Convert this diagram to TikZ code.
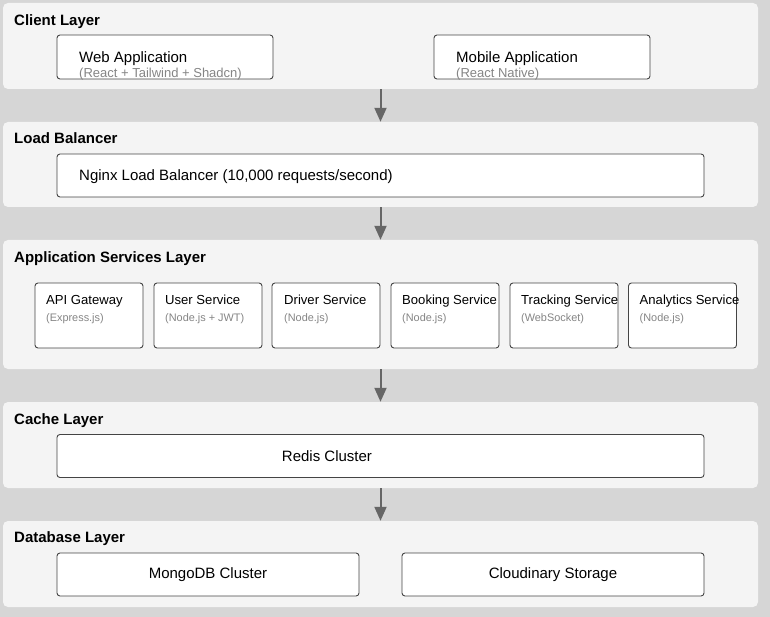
\documentclass[tikz,border=0pt]{standalone}
\usepackage{fontspec}
\setmainfont{Liberation Sans}
\usetikzlibrary{arrows.meta}
\definecolor{bgcol}{HTML}{D6D6D6}
\definecolor{panelcol}{HTML}{F4F4F4}
\definecolor{boxline}{HTML}{444444}
\definecolor{subcol}{HTML}{858585}
\definecolor{arrcol}{HTML}{666666}
\tikzset{
  panel/.style={rectangle, rounded corners=5pt, fill=panelcol, inner sep=0pt, minimum width=755pt},
  layertitle/.style={anchor=base west, inner sep=0pt, font=\fontsize{15}{17}\selectfont\bfseries},
  box/.style={rectangle, rounded corners=3pt, draw=boxline, line width=0.9pt, fill=white, inner sep=0pt},
  maintext/.style={anchor=base west, inner sep=0pt, font=\fontsize{15}{17}\selectfont},
  clsub/.style={anchor=base west, inner sep=0pt, text=subcol, font=\fontsize{13}{15}\selectfont},
  svctext/.style={anchor=base west, inner sep=0pt, font=\fontsize{13.1}{15}\selectfont},
  subtext/.style={anchor=base west, inner sep=0pt, text=subcol, font=\fontsize{10.9}{13}\selectfont},
  ctext/.style={inner sep=0pt, font=\fontsize{15}{17}\selectfont},
  flow/.style={draw=arrcol, line width=2pt, -{Triangle[length=14pt,width=12pt]}, fill=arrcol},
}
\begin{document}
\begin{tikzpicture}[x=1pt,y=-1pt]
\fill[bgcol] (0,0) rectangle (770,617);
\useasboundingbox (0,0) rectangle (770,617);
% panels
\node[panel, minimum height=86pt] (client) at (380.5,46) {};
\node[panel, minimum height=85pt] (lbl) at (380.5,164.5) {};
\node[panel, minimum height=129pt] (app) at (380.5,304.5) {};
\node[panel, minimum height=86pt] (cache) at (380.5,445) {};
\node[panel, minimum height=86pt] (db) at (380.5,564) {};
% titles
\node[layertitle] (tclient) at (14,25.5) {Client Layer};
\node[layertitle] (tlb) at (14,143.5) {Load Balancer};
\node[layertitle] (tapp) at (14,262.5) {Application Services Layer};
\node[layertitle] (tcache) at (14,424.5) {Cache Layer};
\node[layertitle] (tdb) at (14,542.5) {Database Layer};
% client boxes
\node[box, minimum width=216pt, minimum height=44pt] (web) at (165,57) {};
\node[maintext] (webt) at (79,62.5) {Web Application};
\node[clsub] (webs) at (79,77.5) {(React + Tailwind + Shadcn)};
\node[box, minimum width=216pt, minimum height=44pt] (mob) at (542,57) {};
\node[maintext] (mobt) at (456,62.5) {Mobile Application};
\node[clsub] (mobs) at (456,77.5) {(React Native)};
% load balancer
\node[box, minimum width=647pt, minimum height=43pt] (nginx) at (380.5,175.5) {};
\node[maintext] (nginxt) at (79,181) {Nginx Load Balancer (10,000 requests/second)};
% services
\node[box, minimum width=108pt, minimum height=65pt] (s1) at (89,315.5) {};
\node[svctext] (s1t) at (46,305) {API Gateway};
\node[subtext] (s1s) at (46,321.5) {(Express.js)};
\node[box, minimum width=108pt, minimum height=65pt] (s2) at (208,315.5) {};
\node[svctext] (s2t) at (165,305) {User Service};
\node[subtext] (s2s) at (165,321.5) {(Node.js + JWT)};
\node[box, minimum width=108pt, minimum height=65pt] (s3) at (326,315.5) {};
\node[svctext] (s3t) at (284,305) {Driver Service};
\node[subtext] (s3s) at (284,321.5) {(Node.js)};
\node[box, minimum width=108pt, minimum height=65pt] (s4) at (445,315.5) {};
\node[svctext] (s4t) at (402,305) {Booking Service};
\node[subtext] (s4s) at (402,321.5) {(Node.js)};
\node[box, minimum width=108pt, minimum height=65pt] (s5) at (564,315.5) {};
\node[svctext] (s5t) at (521,305) {Tracking Service};
\node[subtext] (s5s) at (521,321.5) {(WebSocket)};
\node[box, minimum width=108pt, minimum height=65pt] (s6) at (682.5,315.5) {};
\node[svctext] (s6t) at (639.5,305) {Analytics Service};
\node[subtext] (s6s) at (639.5,321.5) {(Node.js)};
% cache
\node[box, minimum width=647pt, minimum height=43pt] (redis) at (380.5,456) {};
\node[ctext] (redist) at (327,456) {Redis Cluster};
% database
\node[box, minimum width=302pt, minimum height=43pt] (mongo) at (208,574.5) {};
\node[ctext] (mongot) at (208,574.5) {MongoDB Cluster};
\node[box, minimum width=302pt, minimum height=43pt] (cloud) at (553,574.5) {};
\node[ctext] (cloudt) at (553,574.5) {Cloudinary Storage};
% arrows
\draw[flow] (client.south) -- (lbl.north);
\draw[flow] (lbl.south) -- (app.north);
\draw[flow] (app.south) -- (cache.north);
\draw[flow] (cache.south) -- (db.north);
\end{tikzpicture}
\end{document}
